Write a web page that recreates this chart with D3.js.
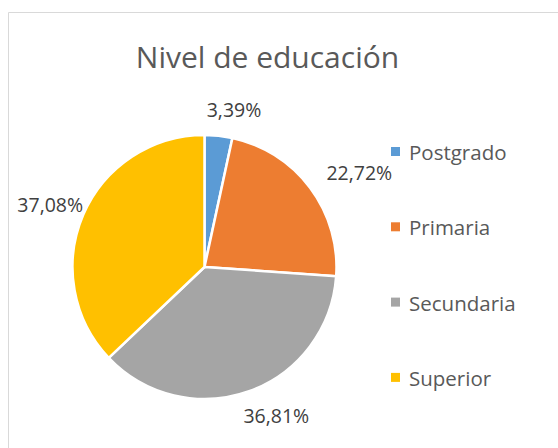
<!DOCTYPE html>
<html>
<head>
<meta charset="utf-8">
<script src="https://cdn.jsdelivr.net/npm/d3@7"></script>
<style>
  body { margin: 0; background: #fff; }
  text { font-family: "Open Sans", "Noto Sans", sans-serif; }
</style>
</head>
<body>
<div class="chart"></div>
<script>
const categories = ["Postgrado", "Primaria", "Secundaria", "Superior"];
const values = [3.39, 22.72, 36.81, 37.08];
const labels = ["3,39%", "22,72%", "36,81%", "37,08%"];
const colors = ["#5B9BD5", "#ED7D31", "#A5A5A5", "#FFC000"];

var width = 558, height = 448;
var cx = 204.5, cy = 267, radius = 132;

var svg = d3.select(".chart")
    .append("svg")
    .attr("width", width)
    .attr("height", height);

// chart frame (only top and left show in the crop)
svg.append("path")
    .attr("d", "M8.5," + height + "V12.5H" + width)
    .attr("fill", "none")
    .attr("stroke", "#d9d9d9")
    .attr("stroke-width", 1);

svg.append("text")
    .attr("x", 267.5)
    .attr("y", 68)
    .attr("text-anchor", "middle")
    .attr("font-size", 30)
    .attr("fill", "#595959")
    .text("Nivel de educación");

var pie = d3.pie().sort(null).value(d => d.value);
var data = categories.map((c, i) => ({ name: c, value: values[i], label: labels[i], color: colors[i] }));
var arcs = pie(data);

var arc = d3.arc().innerRadius(0).outerRadius(radius);

var g = svg.append("g")
    .attr("transform", "translate(" + cx + "," + cy + ")");

g.selectAll("path.slice")
    .data(arcs)
    .enter()
    .append("path")
    .attr("class", "slice")
    .attr("d", arc)
    .attr("fill", d => d.data.color)
    .attr("stroke", "#fff")
    .attr("stroke-width", 2.5)
    .attr("stroke-linejoin", "round");

// labels outside: anchor on a ring, then push the text box outward
var labelR = 147;
g.selectAll("text.lbl")
    .data(arcs)
    .enter()
    .append("text")
    .attr("class", "lbl")
    .attr("font-size", 19.5)
    .attr("fill", "#404040")
    .attr("text-anchor", "middle")
    .attr("dominant-baseline", "central")
    .text(d => d.data.label)
    .each(function(d) {
        var a = (d.startAngle + d.endAngle) / 2;
        var w = this.getComputedTextLength();
        var x = Math.sin(a) * labelR + Math.sin(a) * w / 2 + 11;
        var y = -Math.cos(a) * labelR - Math.cos(a) * 11;
        d3.select(this).attr("x", x).attr("y", y);
    });

var legend = svg.append("g")
    .attr("transform", "translate(391,152)");

var item = legend.selectAll("g")
    .data(data)
    .enter()
    .append("g")
    .attr("transform", (d, i) => "translate(0," + i * 75.3 + ")");

item.append("rect")
    .attr("x", 0)
    .attr("y", -5)
    .attr("width", 9)
    .attr("height", 9)
    .attr("fill", d => d.color);

item.append("text")
    .attr("x", 18)
    .attr("y", 0)
    .attr("dominant-baseline", "central")
    .attr("font-size", 20.5)
    .attr("fill", "#595959")
    .text(d => d.name);
</script>
</body>
</html>
